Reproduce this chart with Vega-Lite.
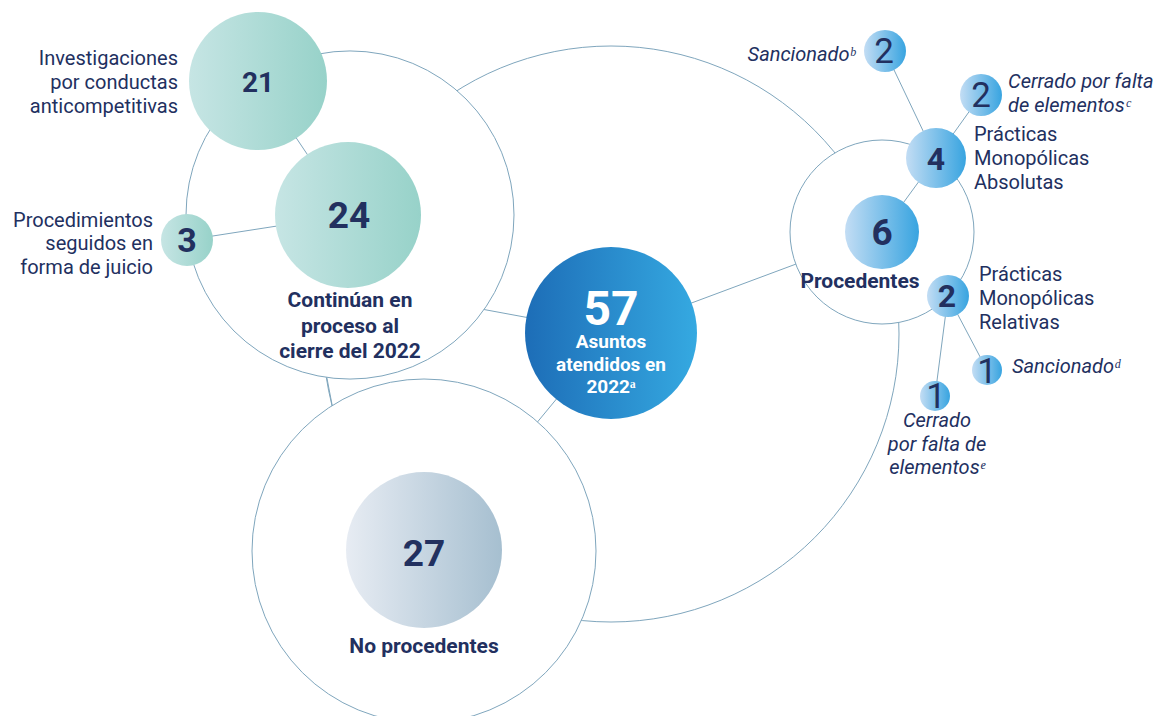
{
  "$schema": "https://vega.github.io/schema/vega-lite/v6.json",
  "width": 1163,
  "height": 716,
  "autosize": {"type": "none"},
  "padding": 0,
  "background": "white",
  "config": {"view": {"stroke": null}},
  "encoding": {
    "x": {"field": "x", "type": "quantitative", "scale": {"domain": [0, 1163], "nice": false, "zero": false}, "axis": null},
    "y": {"field": "y", "type": "quantitative", "scale": {"domain": [0, 716], "nice": false, "zero": false, "reverse": true}, "axis": null}
  },
  "layer": [
    {
      "data": {"values": [{"name": "57 outer ring", "x": 611, "y": 334, "r": 288}]},
      "mark": {"type": "point", "shape": "circle", "filled": false, "stroke": "#7fa6bd", "strokeWidth": 1, "opacity": 1},
      "encoding": {"size": {"field": "r", "type": "quantitative", "scale": {"type": "pow", "exponent": 2, "domain": [0, 300], "range": [0, 360000]}, "legend": null}}
    },
    {
      "data": {"values": [
        {"x": 611, "y": 333, "x2": 465, "y2": 306},
        {"x": 611, "y": 333, "x2": 530, "y2": 431},
        {"x": 611, "y": 333, "x2": 882, "y2": 232},
        {"x": 325, "y": 368, "x2": 334, "y2": 415}
      ]},
      "mark": {"type": "rule", "stroke": "#7fa6bd", "strokeWidth": 1},
      "encoding": {"x2": {"field": "x2"}, "y2": {"field": "y2"}}
    },
    {
      "data": {"values": [
        {"name": "Continúan", "x": 350, "y": 215, "r": 164},
        {"name": "No procedentes", "x": 424, "y": 551, "r": 172},
        {"name": "Procedentes", "x": 882, "y": 232, "r": 92}
      ]},
      "mark": {"type": "point", "shape": "circle", "filled": true, "fill": "white", "stroke": "#7fa6bd", "strokeWidth": 1, "opacity": 1},
      "encoding": {"size": {"field": "r", "type": "quantitative", "scale": {"type": "pow", "exponent": 2, "domain": [0, 300], "range": [0, 360000]}, "legend": null}}
    },
    {
      "data": {"values": [
        {"x": 258, "y": 81, "x2": 348, "y2": 215},
        {"x": 187, "y": 240, "x2": 348, "y2": 215},
        {"x": 936, "y": 158, "x2": 882, "y2": 232},
        {"x": 885, "y": 51, "x2": 936, "y2": 158},
        {"x": 981, "y": 95, "x2": 936, "y2": 158},
        {"x": 948, "y": 296, "x2": 987, "y2": 370},
        {"x": 948, "y": 296, "x2": 935, "y2": 396}
      ]},
      "mark": {"type": "rule", "stroke": "#7fa6bd", "strokeWidth": 1},
      "encoding": {"x2": {"field": "x2"}, "y2": {"field": "y2"}}
    },
    {
      "data": {"values": [
        {"v": 21, "x": 258, "y": 81, "r": 69},
        {"v": 24, "x": 348, "y": 215, "r": 73},
        {"v": 3, "x": 187, "y": 240, "r": 26}
      ]},
      "mark": {"type": "point", "shape": "circle", "filled": true, "strokeWidth": 0, "opacity": 1,
        "fill": {"gradient": "linear", "x1": 0, "y1": 0, "x2": 1, "y2": 0, "stops": [{"offset": 0, "color": "#c6e5e4"}, {"offset": 1, "color": "#97d2c9"}]}},
      "encoding": {"size": {"field": "r", "type": "quantitative", "scale": {"type": "pow", "exponent": 2, "domain": [0, 300], "range": [0, 360000]}, "legend": null}}
    },
    {
      "data": {"values": [
        {"v": 6, "x": 882, "y": 232, "r": 37},
        {"v": 4, "x": 936, "y": 158, "r": 30},
        {"v": 2, "x": 885, "y": 51, "r": 21},
        {"v": 2, "x": 981, "y": 95, "r": 21},
        {"v": 2, "x": 948, "y": 296, "r": 21},
        {"v": 1, "x": 987, "y": 370, "r": 15},
        {"v": 1, "x": 935, "y": 396, "r": 15}
      ]},
      "mark": {"type": "point", "shape": "circle", "filled": true, "strokeWidth": 0, "opacity": 1,
        "fill": {"gradient": "linear", "x1": 0, "y1": 0, "x2": 1, "y2": 0, "stops": [{"offset": 0, "color": "#c3ddf4"}, {"offset": 1, "color": "#38a4e0"}]}},
      "encoding": {"size": {"field": "r", "type": "quantitative", "scale": {"type": "pow", "exponent": 2, "domain": [0, 300], "range": [0, 360000]}, "legend": null}}
    },
    {
      "data": {"values": [{"v": 57, "x": 611, "y": 333, "r": 86}]},
      "mark": {"type": "point", "shape": "circle", "filled": true, "strokeWidth": 0, "opacity": 1,
        "fill": {"gradient": "linear", "x1": 0, "y1": 0, "x2": 1, "y2": 0, "stops": [{"offset": 0, "color": "#1d6db7"}, {"offset": 1, "color": "#35a9e1"}]}},
      "encoding": {"size": {"field": "r", "type": "quantitative", "scale": {"type": "pow", "exponent": 2, "domain": [0, 300], "range": [0, 360000]}, "legend": null}}
    },
    {
      "data": {"values": [{"v": 27, "x": 424, "y": 550, "r": 78}]},
      "mark": {"type": "point", "shape": "circle", "filled": true, "strokeWidth": 0, "opacity": 1,
        "fill": {"gradient": "linear", "x1": 0, "y1": 0, "x2": 1, "y2": 0, "stops": [{"offset": 0, "color": "#e7ecf3"}, {"offset": 1, "color": "#a6bfd0"}]}},
      "encoding": {"size": {"field": "r", "type": "quantitative", "scale": {"type": "pow", "exponent": 2, "domain": [0, 300], "range": [0, 360000]}, "legend": null}}
    },
    {
      "data": {"values": [{"t": "24", "x": 349, "y": 228}, {"t": "27", "x": 424, "y": 566}, {"t": "6", "x": 882, "y": 245}]},
      "mark": {"type": "text", "font": "Roboto", "fontWeight": "bold", "fontSize": 37, "align": "center", "baseline": "alphabetic", "fill": "#22305f"},
      "encoding": {"text": {"field": "t"}}
    },
    {
      "data": {"values": [{"t": "3", "x": 187, "y": 252}]},
      "mark": {"type": "text", "font": "Roboto", "fontWeight": "bold", "fontSize": 34, "align": "center", "baseline": "alphabetic", "fill": "#22305f"},
      "encoding": {"text": {"field": "t"}}
    },
    {
      "data": {"values": [{"t": "21", "x": 258, "y": 92}]},
      "mark": {"type": "text", "font": "Roboto", "fontWeight": "bold", "fontSize": 28, "align": "center", "baseline": "alphabetic", "fill": "#22305f"},
      "encoding": {"text": {"field": "t"}}
    },
    {
      "data": {"values": [{"t": "4", "x": 936, "y": 170}, {"t": "2", "x": 947, "y": 307}]},
      "mark": {"type": "text", "font": "Roboto", "fontWeight": "bold", "fontSize": 32, "align": "center", "baseline": "alphabetic", "fill": "#22305f"},
      "encoding": {"text": {"field": "t"}}
    },
    {
      "data": {"values": [{"t": "2", "x": 884, "y": 63}, {"t": "2", "x": 981, "y": 107}, {"t": "1", "x": 987, "y": 383}, {"t": "1", "x": 936, "y": 408}]},
      "mark": {"type": "text", "font": "Roboto", "fontWeight": "normal", "fontSize": 35, "align": "center", "baseline": "alphabetic", "fill": "#22305f"},
      "encoding": {"text": {"field": "t"}}
    },
    {
      "data": {"values": [{"t": "57", "x": 611, "y": 325}]},
      "mark": {"type": "text", "font": "Roboto", "fontWeight": "bold", "fontSize": 48, "align": "center", "baseline": "alphabetic", "fill": "white"},
      "encoding": {"text": {"field": "t"}}
    },
    {
      "data": {"values": [{"t": "Asuntos", "x": 611, "y": 348}, {"t": "atendidos en", "x": 611, "y": 371}, {"t": "2022ᵃ", "x": 611, "y": 393}]},
      "mark": {"type": "text", "font": "Roboto", "fontWeight": "bold", "fontSize": 19, "align": "center", "baseline": "alphabetic", "fill": "white"},
      "encoding": {"text": {"field": "t"}}
    },
    {
      "data": {"values": [
        {"t": "Continúan en", "x": 350, "y": 307},
        {"t": "proceso al", "x": 350, "y": 333},
        {"t": "cierre del 2022", "x": 350, "y": 358},
        {"t": "No procedentes", "x": 424, "y": 653},
        {"t": "Procedentes", "x": 860, "y": 288}
      ]},
      "mark": {"type": "text", "font": "Roboto", "fontWeight": "bold", "fontSize": 21, "align": "center", "baseline": "alphabetic", "fill": "#22305f"},
      "encoding": {"text": {"field": "t"}}
    },
    {
      "data": {"values": [
        {"t": "Investigaciones", "x": 178, "y": 65},
        {"t": "por conductas", "x": 178, "y": 89},
        {"t": "anticompetitivas", "x": 178, "y": 113},
        {"t": "Procedimientos", "x": 153, "y": 227},
        {"t": "seguidos en", "x": 153, "y": 250},
        {"t": "forma de juicio", "x": 153, "y": 274}
      ]},
      "mark": {"type": "text", "font": "Roboto", "fontSize": 20, "align": "right", "baseline": "alphabetic", "fill": "#22305f"},
      "encoding": {"text": {"field": "t"}}
    },
    {
      "data": {"values": [
        {"t": "Prácticas", "x": 974, "y": 141},
        {"t": "Monopólicas", "x": 974, "y": 165},
        {"t": "Absolutas", "x": 974, "y": 189},
        {"t": "Prácticas", "x": 979, "y": 281},
        {"t": "Monopólicas", "x": 979, "y": 305},
        {"t": "Relativas", "x": 979, "y": 329}
      ]},
      "mark": {"type": "text", "font": "Roboto", "fontSize": 20, "align": "left", "baseline": "alphabetic", "fill": "#22305f"},
      "encoding": {"text": {"field": "t"}}
    },
    {
      "data": {"values": [{"t": "Sancionadoᵇ", "x": 855, "y": 61}]},
      "mark": {"type": "text", "font": "Roboto", "fontStyle": "italic", "fontSize": 20, "align": "right", "baseline": "alphabetic", "fill": "#22305f"},
      "encoding": {"text": {"field": "t"}}
    },
    {
      "data": {"values": [
        {"t": "Cerrado por falta", "x": 1008, "y": 88},
        {"t": "de elementosᶜ", "x": 1008, "y": 112},
        {"t": "Sancionadoᵈ", "x": 1012, "y": 373}
      ]},
      "mark": {"type": "text", "font": "Roboto", "fontStyle": "italic", "fontSize": 20, "align": "left", "baseline": "alphabetic", "fill": "#22305f"},
      "encoding": {"text": {"field": "t"}}
    },
    {
      "data": {"values": [
        {"t": "Cerrado", "x": 937, "y": 427},
        {"t": "por falta de", "x": 937, "y": 451},
        {"t": "elementosᵉ", "x": 937, "y": 474}
      ]},
      "mark": {"type": "text", "font": "Roboto", "fontStyle": "italic", "fontSize": 20, "align": "center", "baseline": "alphabetic", "fill": "#22305f"},
      "encoding": {"text": {"field": "t"}}
    }
  ]
}
